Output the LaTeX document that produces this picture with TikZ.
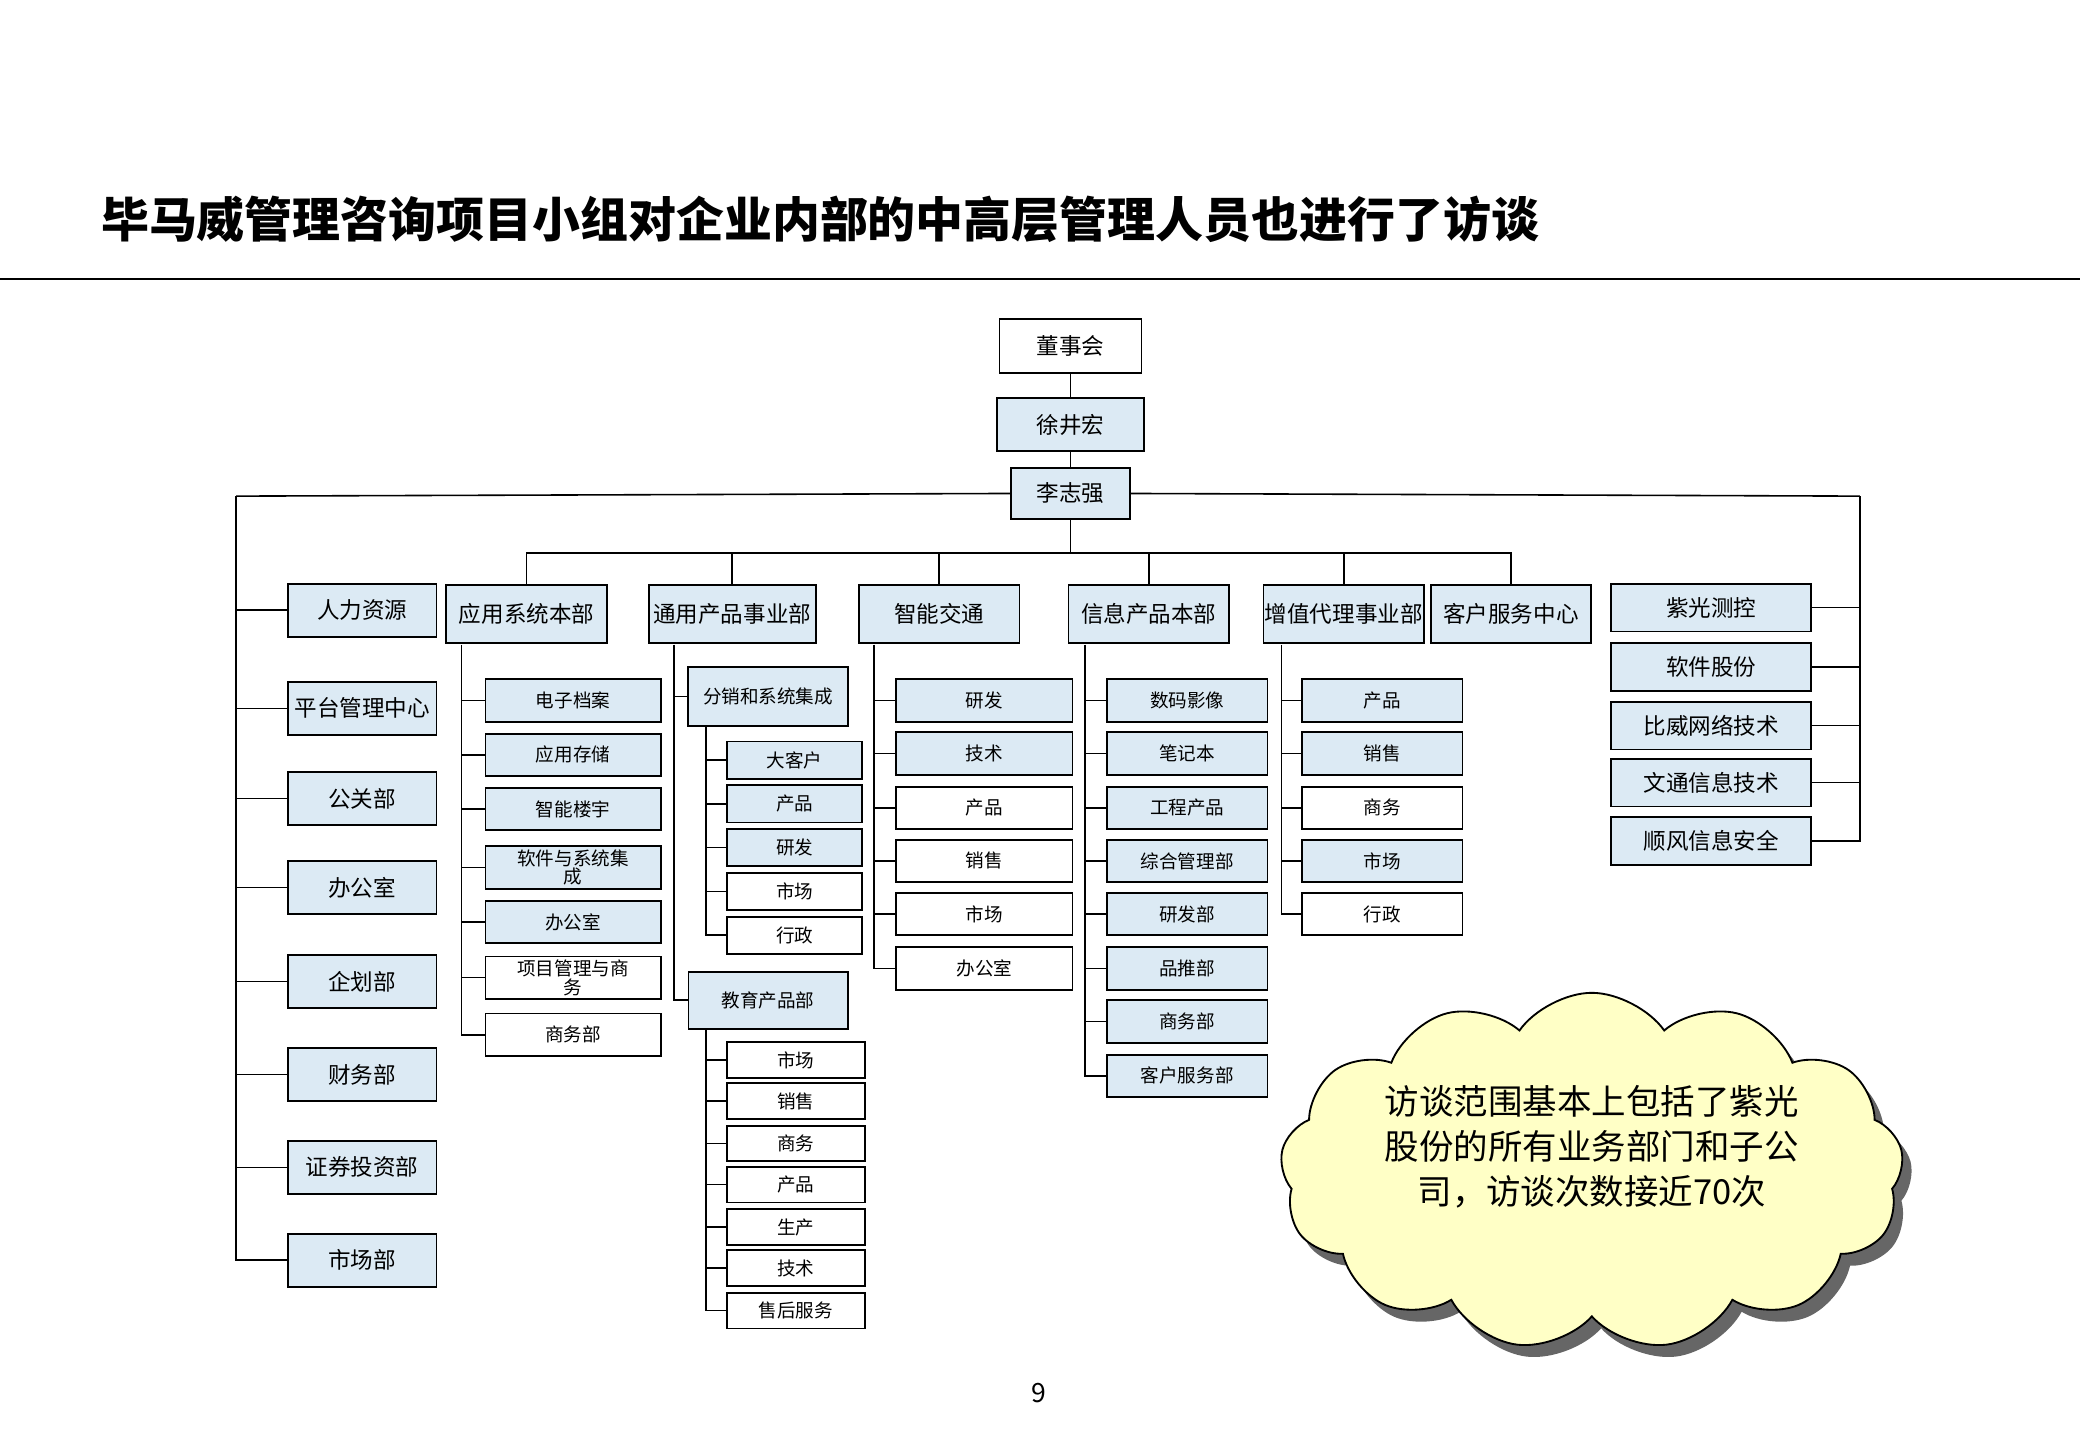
\documentclass[tikz,border=0pt]{standalone}
\usepackage{fontspec}
\setmainfont{Noto Sans CJK SC}
\usetikzlibrary{shapes.symbols,shadows}
\definecolor{bx}{HTML}{DCEAF4}
\definecolor{cl}{HTML}{FFFFC6}
\tikzset{
  box/.style={draw, line width=1.4pt, fill=bx, minimum height=32, inner sep=1pt, font=\fontsize{14}{15}\selectfont, align=center},
  hbox/.style={box, minimum height=44, font=\fontsize{17}{18}\selectfont},
  lbox/.style={box, minimum width=112, minimum height=40, font=\fontsize{17}{18}\selectfont},
  ln/.style={line width=1.2pt}
}
\begin{document}
\begin{tikzpicture}[x=1pt,y=-1pt]
\useasboundingbox (0,0) rectangle (1568,1086);
\node[anchor=west, inner sep=0pt, font=\fontsize{32}{34}\selectfont\bfseries] (title) at (76,165) {\resizebox{1084pt}{!}{毕马威管理咨询项目小组对企业内部的中高层管理人员也进行了访谈}};
\coordinate (hl) at (0,210); \coordinate (hr) at (1568,210);
\draw[line width=1.5pt] (hl) -- (hr);
\node[font=\fontsize{20}{22}\selectfont] (pg) at (783,1050) {9};

\node[box, fill=white, minimum width=107, minimum height=41, font=\fontsize{17}{18}\selectfont] (dsh) at (807,261) {董事会};
\node[box, minimum width=111, minimum height=40, font=\fontsize{17}{18}\selectfont] (xjh) at (807,320) {徐井宏};
\node[box, minimum width=90, minimum height=39, font=\fontsize{17}{18}\selectfont] (lzq) at (807,372) {李志强};
\draw[ln] (dsh) -- (xjh); \draw[ln] (xjh) -- (lzq);
\coordinate (bL) at (178,374); \coordinate (bR) at (1402,374);
\draw[ln] (lzq.west) -- (bL); \draw[ln] (lzq.east) -- (bR);
\coordinate (b2) at (807,417);
\draw[ln] (lzq.south) -- (b2);

% left column
\foreach \t/\y [count=\i] in {人力资源/460,平台管理中心/534,公关部/602,办公室/669,企划部/740,财务部/810,证券投资部/880,市场部/950}{
  \node[lbox] (L\i) at (273,\y) {\t};
  \draw[ln] (bL |- L\i.west) -- (L\i.west);
}
\draw[ln] (bL) |- (L8.west);
% right column
\foreach \t/\y [count=\i] in {紫光测控/458,软件股份/503,比威网络技术/547,文通信息技术/590,顺风信息安全/634}{
  \node[lbox, minimum width=151, minimum height=36] (R\i) at (1290,\y) {\t};
  \draw[ln] (bR |- R\i.east) -- (R\i.east);
}
\draw[ln] (bR) |- (R5.east);

% headers
\node[hbox, minimum width=121] (H1) at (397,463) {应用系统本部};
\node[hbox, minimum width=126] (H2) at (552,463) {通用产品事业部};
\node[hbox, minimum width=121] (H3) at (708,463) {智能交通};
\node[hbox, minimum width=121] (H4) at (866,463) {信息产品本部};
\node[hbox, minimum width=121] (H5) at (1013,463) {增值代理事业部};
\node[hbox, minimum width=121] (H6) at (1139,463) {客户服务中心};
\draw[ln] (H1.north) |- (b2) -| (H6.north);
\foreach \k in {2,3,4,5}{ \draw[ln] (H\k.north) -- (H\k.north |- b2); }

% H1 children
\coordinate (v1) at (348,486);
\foreach \t/\y/\f [count=\i] in {电子档案/528/bx,应用存储/569/bx,智能楼宇/610/bx,软件与系统集\\成/654/bx,办公室/695/bx,项目管理与商\\务/737/white,商务部/780/white}{
  \node[box, fill=\f, minimum width=132, font=\fontsize{14}{14}\selectfont] (A\i) at (432,\y) {\t};
  \draw[ln] (v1 |- A\i.west) -- (A\i.west);
}
\draw[ln] (v1) |- (A7.west);

% H2 children
\coordinate (v2) at (508,486);
\node[box, minimum width=121, minimum height=45] (G1) at (579,525) {分销和系统集成};
\node[box, minimum width=120, minimum height=43] (G2) at (579,754) {教育产品部};
\draw[ln] (v2 |- G1.west) -- (G1.west);
\draw[ln] (v2) |- (G2.west);
\coordinate (v2a) at (532,548);
\foreach \t/\y/\f [count=\i] in {大客户/573/bx,产品/606/bx,研发/639/bx,市场/672/white,行政/705/white}{
  \node[box, fill=\f, minimum width=102, minimum height=28] (D\i) at (599,\y) {\t};
  \draw[ln] (v2a |- D\i.west) -- (D\i.west);
}
\draw[ln] (v2a) |- (D5.west);
\coordinate (v2b) at (532,776);
\foreach \t/\y [count=\i] in {市场/799,销售/830,商务/862,产品/893,生产/925,技术/956,售后服务/988}{
  \node[box, fill=white, minimum width=104, minimum height=27] (E\i) at (600,\y) {\t};
  \draw[ln] (v2b |- E\i.west) -- (E\i.west);
}
\draw[ln] (v2b) |- (E7.west);

% H3 children
\coordinate (v3) at (659,486);
\foreach \t/\y/\f [count=\i] in {研发/528/bx,技术/568/bx,产品/609/white,销售/649/white,市场/689/white,办公室/730/white}{
  \node[box, fill=\f, minimum width=133] (C\i) at (742,\y) {\t};
  \draw[ln] (v3 |- C\i.west) -- (C\i.west);
}
\draw[ln] (v3) |- (C6.west);

% H4 children
\coordinate (v4) at (818,486);
\foreach \t/\y [count=\i] in {数码影像/528,笔记本/568,工程产品/609,综合管理部/649,研发部/689,品推部/730,商务部/770,客户服务部/811}{
  \node[box, minimum width=121] (I\i) at (895,\y) {\t};
  \draw[ln] (v4 |- I\i.west) -- (I\i.west);
}
\draw[ln] (v4) |- (I8.west);

% H5 children
\coordinate (v5) at (966,486);
\foreach \t/\y/\f [count=\i] in {产品/528/bx,销售/568/bx,商务/609/white,市场/649/bx,行政/689/white}{
  \node[box, fill=\f, minimum width=121] (Z\i) at (1042,\y) {\t};
  \draw[ln] (v5 |- Z\i.west) -- (Z\i.west);
}
\draw[ln] (v5) |- (Z5.west);

% cloud
\node[cloud, draw, line width=1.4pt, fill=cl, cloud puffs=13, cloud puff arc=110, aspect=2,
  minimum width=470, minimum height=245, inner sep=0pt,
  drop shadow={shadow xshift=7pt, shadow yshift=-9pt, fill=black!60, opacity=1},
  align=center, font=\fontsize{26}{34}\selectfont] (cld) at (1200,883)
  {访谈范围基本上包括了紫光\\股份的所有业务部门和子公\\司，访谈次数接近70次\\[6pt]};
\end{tikzpicture}
\end{document}
